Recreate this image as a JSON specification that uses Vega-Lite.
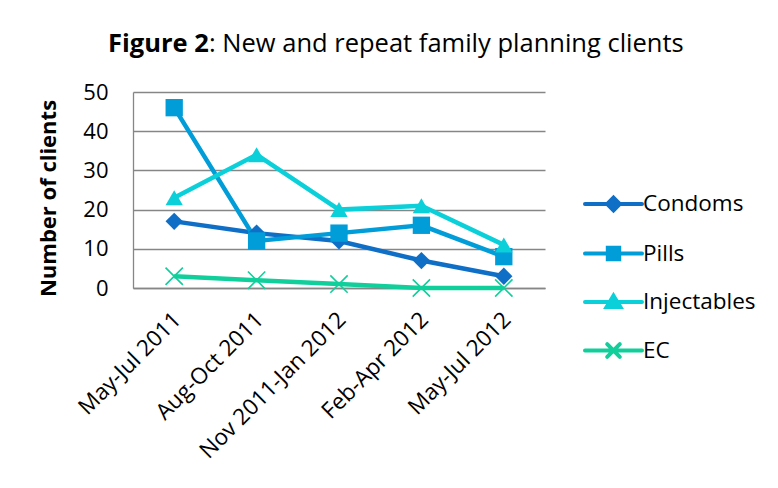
{
  "$schema": "https://vega.github.io/schema/vega-lite/v6.json",
  "width": 412,
  "height": 196,
  "autosize": {"type": "none"},
  "padding": {"left": 133, "top": 92, "right": 233, "bottom": 200},
  "background": "white",
  "title": {
    "text": ": New and repeat family planning clients",
    "subtitle": "Figure 2",
    "anchor": "start",
    "frame": "group",
    "dx": -25,
    "font": "Open Sans",
    "fontSize": 25.5,
    "fontWeight": "normal",
    "color": "black",
    "subtitleFont": "Open Sans",
    "subtitleFontSize": 25.5,
    "subtitleFontWeight": "bold",
    "subtitleColor": "black",
    "subtitlePadding": -25.5,
    "offset": 24,
    "encoding": {"dx": {"value": 76}}
  },
  "config": {
    "font": "Open Sans",
    "view": {"stroke": null},
    "axis": {
      "domainColor": "#868686",
      "domainWidth": 1.3,
      "gridColor": "#868686",
      "gridWidth": 1.3,
      "labelColor": "black",
      "titleColor": "black",
      "ticks": false,
      "tickSize": 0
    }
  },
  "data": {
    "values": [
      {"period": "May-Jul 2011", "method": "Condoms", "clients": 17},
      {"period": "Aug-Oct 2011", "method": "Condoms", "clients": 14},
      {"period": "Nov 2011-Jan 2012", "method": "Condoms", "clients": 12},
      {"period": "Feb-Apr 2012", "method": "Condoms", "clients": 7},
      {"period": "May-Jul 2012", "method": "Condoms", "clients": 3},
      {"period": "May-Jul 2011", "method": "Pills", "clients": 46},
      {"period": "Aug-Oct 2011", "method": "Pills", "clients": 12},
      {"period": "Nov 2011-Jan 2012", "method": "Pills", "clients": 14},
      {"period": "Feb-Apr 2012", "method": "Pills", "clients": 16},
      {"period": "May-Jul 2012", "method": "Pills", "clients": 8},
      {"period": "May-Jul 2011", "method": "Injectables", "clients": 23},
      {"period": "Aug-Oct 2011", "method": "Injectables", "clients": 34},
      {"period": "Nov 2011-Jan 2012", "method": "Injectables", "clients": 20},
      {"period": "Feb-Apr 2012", "method": "Injectables", "clients": 21},
      {"period": "May-Jul 2012", "method": "Injectables", "clients": 11},
      {"period": "May-Jul 2011", "method": "EC", "clients": 3},
      {"period": "Aug-Oct 2011", "method": "EC", "clients": 2},
      {"period": "Nov 2011-Jan 2012", "method": "EC", "clients": 1},
      {"period": "Feb-Apr 2012", "method": "EC", "clients": 0},
      {"period": "May-Jul 2012", "method": "EC", "clients": 0}
    ]
  },
  "encoding": {
    "x": {
      "field": "period",
      "type": "ordinal",
      "sort": ["May-Jul 2011", "Aug-Oct 2011", "Nov 2011-Jan 2012", "Feb-Apr 2012", "May-Jul 2012"],
      "scale": {"padding": 0.5},
      "axis": {
        "title": null,
        "labelAngle": -45,
        "labelAlign": "right",
        "labelBaseline": "top",
        "labelFontSize": 22.5,
        "labelPadding": 20,
        "labelOffset": -5,
        "labelLimit": 0,
        "grid": false
      }
    },
    "y": {
      "field": "clients",
      "type": "quantitative",
      "scale": {"domain": [0, 50]},
      "axis": {
        "values": [0, 10, 20, 30, 40, 50],
        "title": "Number of clients",
        "titleFontSize": 22,
        "titleFontWeight": "bold",
        "titlePadding": 22,
        "titleY": 106,
        "labelFontSize": 22,
        "labelPadding": 25,
        "grid": true
      }
    },
    "color": {
      "field": "method",
      "type": "nominal",
      "scale": {
        "domain": ["Condoms", "Pills", "Injectables", "EC"],
        "range": ["#0F6FC6", "#009DD9", "#0BD0D9", "#10CF9B"]
      }
    }
  },
  "layer": [
    {
      "mark": {"type": "line", "strokeWidth": 4.5},
      "encoding": {
        "color": {
          "field": "method",
          "type": "nominal",
          "legend": {
            "orient": "none",
            "legendX": 450,
            "legendY": 95,
            "title": null,
            "labelFontSize": 22.5,
            "labelColor": "black",
            "labelFont": "Open Sans",
            "symbolSize": 900,
            "labelOffset": 26,
            "rowPadding": 17.5,
            "symbolStrokeWidth": 4,
            "encoding": {
              "symbols": {
                "shape": {"value": {"expr": "datum.value === 'Condoms' ? 'M-1,0L2.8,0M0.9,-0.42L1.32,0L0.9,0.42L0.48,0Z' : datum.value === 'Pills' ? 'M-1,0L2.8,0M0.52,-0.38L1.28,-0.38L1.28,0.38L0.52,0.38Z' : datum.value === 'Injectables' ? 'M-1,0L2.8,0M0.9,-0.42L1.36,0.34L0.44,0.34Z' : 'M-1,0L2.8,0M0.48,-0.42L1.32,0.42M0.48,0.42L1.32,-0.42'"}},
                "fill": {"value": {"expr": "scale('color', datum.value)"}},
                "stroke": {"value": {"expr": "scale('color', datum.value)"}},
                "strokeCap": {"value": "round"}
              }
            }
          }
        }
      }
    },
    {
      "transform": [{"filter": "datum.method !== 'EC'"}],
      "mark": {"type": "point", "filled": true, "opacity": 1, "size": 300},
      "encoding": {
        "color": {"field": "method", "type": "nominal", "legend": null},
        "shape": {
          "field": "method",
          "type": "nominal",
          "legend": null,
          "scale": {
            "domain": ["Condoms", "Pills", "Injectables"],
            "range": ["diamond", "square", "triangle-up"]
          }
        }
      }
    },
    {
      "transform": [{"filter": "datum.method === 'EC'"}],
      "mark": {
        "type": "point",
        "filled": false,
        "opacity": 1,
        "size": 300,
        "strokeWidth": 1.6,
        "shape": "M-1,-1L1,1M-1,1L1,-1"
      },
      "encoding": {
        "color": {"field": "method", "type": "nominal", "legend": null}
      }
    }
  ]
}
